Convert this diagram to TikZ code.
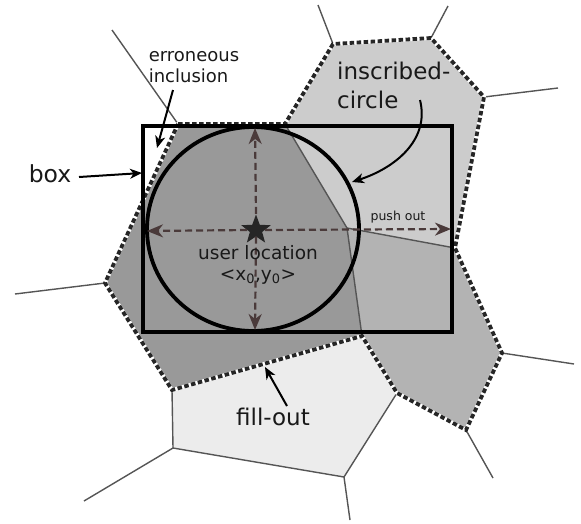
\documentclass[tikz,border=0pt]{standalone}
\usepackage{fontspec}
\setmainfont{DejaVu Sans}
\usetikzlibrary{arrows.meta,shapes.geometric}
\definecolor{cdark}{HTML}{999999}
\definecolor{clight}{HTML}{CCCCCC}
\definecolor{cmed}{HTML}{B3B3B3}
\definecolor{cpale}{HTML}{ECECEC}
\definecolor{cedge}{HTML}{555555}
\definecolor{carrow}{HTML}{4A3A3A}
\tikzset{
  edge/.style={draw=cedge, line width=1.4pt},
  outlinew/.style={draw=white, line width=3.8pt, line join=miter},
  outlined/.style={draw=black!85, line width=3.8pt, dash pattern=on 4.5pt off 2.5pt},
  callout/.style={draw=black, line width=2pt, -{Stealth[length=12pt,width=10pt,inset=3.5pt]}},
  pusharrow/.style={draw=carrow, line width=2.2pt, dash pattern=on 7pt off 4pt, -{Stealth[length=16pt,width=13pt,inset=5pt]}},
  lbl/.style={inner sep=0pt, text=black!90}
}
\begin{document}
\begin{tikzpicture}[x=1pt,y=-1pt]
\useasboundingbox (0,0) rectangle (581,523);
% cell vertices
\coordinate (A) at (178,124);
\coordinate (B) at (285,124);
\coordinate (C) at (333,44);
\coordinate (D) at (431,38);
\coordinate (E) at (484,97);
\coordinate (F) at (455,248);
\coordinate (G) at (347,228);
\coordinate (H) at (502,353);
\coordinate (I) at (466,430);
\coordinate (J) at (397,393);
\coordinate (K) at (362,336);
\coordinate (L) at (172,390);
\coordinate (M) at (105,283);
\coordinate (N) at (344,477);
\coordinate (O) at (173,448);
% outer ends
\coordinate (a1) at (112,30);
\coordinate (c1) at (318,5);
\coordinate (d1) at (448,6);
\coordinate (e1) at (558,88);
\coordinate (h1) at (574,364);
\coordinate (i1) at (493,478);
\coordinate (n1) at (350,520);
\coordinate (o1) at (84,501);
\coordinate (m1) at (15,294);
% fills
\fill[cdark] (A) -- (B) -- (G) -- (K) -- (L) -- (M) -- cycle;
\fill[clight] (B) -- (C) -- (D) -- (E) -- (F) -- (G) -- cycle;
\fill[cmed] (G) -- (F) -- (H) -- (I) -- (J) -- (K) -- cycle;
\fill[cpale] (L) -- (K) -- (J) -- (N) -- (O) -- cycle;
% edges
\draw[edge] (B) -- (G) -- (K);
\draw[edge] (G) -- (F);
\draw[edge] (J) -- (N) -- (O) -- (L);
\draw[edge] (A) -- (a1);
\draw[edge] (C) -- (c1);
\draw[edge] (D) -- (d1);
\draw[edge] (E) -- (e1);
\draw[edge] (H) -- (h1);
\draw[edge] (I) -- (i1);
\draw[edge] (N) -- (n1);
\draw[edge] (O) -- (o1);
\draw[edge] (M) -- (m1);
% dashed outline
\draw[outlinew] (A) -- (B) -- (C) -- (D) -- (E) -- (F) -- (H) -- (I) -- (J) -- (K) -- (L) -- (M) -- cycle;
\draw[outlined] (A) -- (B) -- (C) -- (D) -- (E) -- (F) -- (H) -- (I) -- (J) -- (K) -- (L) -- (M) -- cycle;
% box and circle
\draw[black, line width=3.8pt] (143,126) rectangle (452,332);
\draw[black, line width=3.8pt] (253,229) ellipse [x radius=106, y radius=102];
% star and push arrows
\node[star, star points=5, star point ratio=2.4, fill=black!85, minimum size=31pt, inner sep=0pt] (star) at (256,230) {};
\coordinate (tl) at (147,231);
\coordinate (tu) at (255,128);
\coordinate (td) at (255,330);
\coordinate (tr) at (451,229);
\draw[pusharrow] (star.west) -- (tl);
\draw[pusharrow] (star.north) -- (tu);
\draw[pusharrow] (star.south) -- (td);
\draw[pusharrow] (star.east) -- (tr);
% labels
\node[lbl, font=\fontsize{18}{21}\selectfont, align=left] (err) at (194,67) {erroneous\\inclusion};
\node[lbl, font=\fontsize{23.5}{26}\selectfont, anchor=base] (box) at (50,182) {box};
\node[lbl, font=\fontsize{23}{29}\selectfont, align=left, anchor=north west] (insc) at (337,62) {inscribed-\\circle};
\node[lbl, font=\fontsize{12.5}{15}\selectfont, anchor=base] (push) at (398,220) {push out};
\node[lbl, font=\fontsize{18.5}{22}\selectfont, anchor=base] (user) at (258,259) {user location};
\node[lbl, font=\fontsize{18.5}{22}\selectfont, anchor=base] (xy) at (258,280) {<x\textsubscript{0},y\textsubscript{0}>};
\node[lbl, font=\fontsize{23}{28}\selectfont, anchor=base] (fill) at (273,425) {fill-out};
% callout arrows
\coordinate (errtail) at (173,90);
\coordinate (errtip) at (157,148);
\coordinate (boxtail) at (79,177);
\coordinate (boxtip) at (142,173);
\coordinate (insctail) at (420,100);
\coordinate (insctip) at (352,182);
\coordinate (filltail) at (287,406);
\coordinate (filltip) at (265,367);
\draw[callout] (errtail) -- (errtip);
\draw[callout] (boxtail) -- (boxtip);
\draw[callout] (insctail) .. controls (430,140) and (395,168) .. (insctip);
\draw[callout] (filltail) -- (filltip);
\end{tikzpicture}
\end{document}
